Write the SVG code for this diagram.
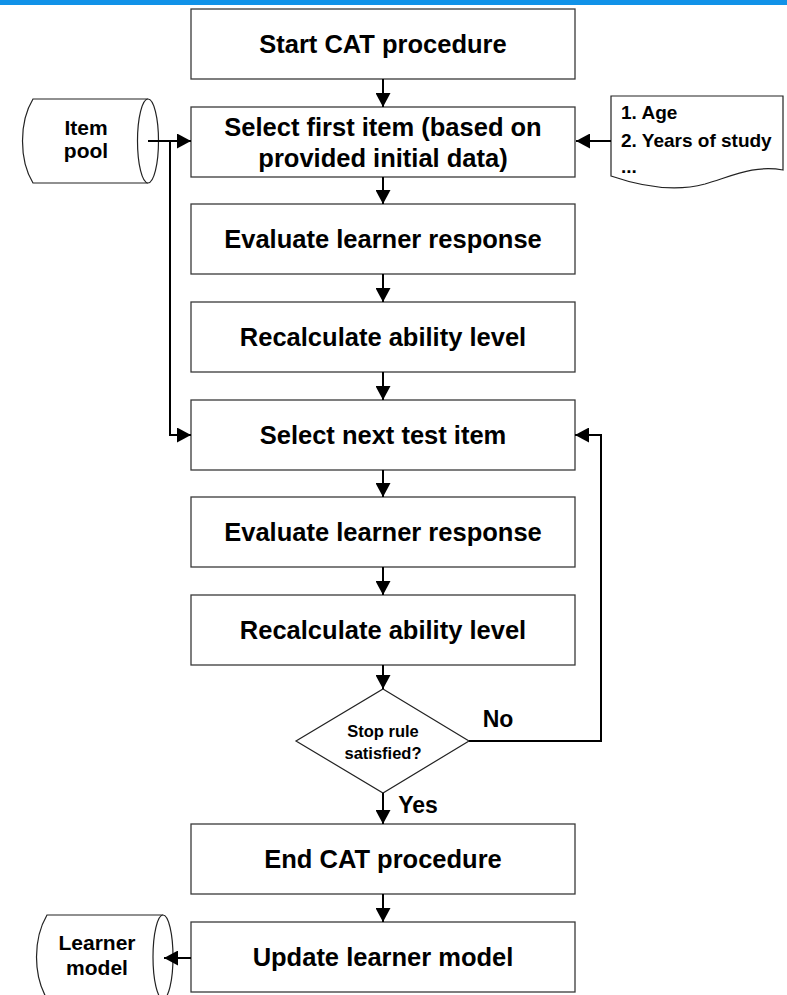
<svg xmlns="http://www.w3.org/2000/svg" width="787" height="995" viewBox="0 0 787 995">
<style>
.box{fill:#fff;stroke:#3a3a3a;stroke-width:1.3}
.shape{fill:#fff;stroke:#222;stroke-width:1.2}
.t{font-family:"Liberation Sans",Arial,sans-serif;font-weight:bold;fill:#000;text-anchor:middle}
.l{text-anchor:start}
.big{font-size:25.5px}
.ln{fill:none;stroke:#000;stroke-width:2}
</style>
<defs>
<marker id="ah" viewBox="0 0 14 15" refX="14" refY="7.5" markerWidth="14" markerHeight="15" markerUnits="userSpaceOnUse" orient="auto">
<path d="M0,0 L14,7.5 L0,15 z" fill="#000"/>
</marker>
</defs>
<rect x="0" y="0" width="787" height="5" fill="#1192e8"/>

<g id="start"><rect class="box" x="191" y="9" width="384" height="70"/><text class="t big" x="383" y="53">Start CAT procedure</text></g>
<g id="selectFirst"><rect class="box" x="191" y="107" width="384" height="70"/><text class="t big" x="383" y="136">Select first item (based on</text><text class="t big" x="383" y="167">provided initial data)</text></g>
<g id="eval1"><rect class="box" x="191" y="204" width="384" height="70"/><text class="t big" x="383" y="248">Evaluate learner response</text></g>
<g id="recalc1"><rect class="box" x="191" y="302" width="384" height="70"/><text class="t big" x="383" y="346">Recalculate ability level</text></g>
<g id="selectNext"><rect class="box" x="191" y="400" width="384" height="70"/><text class="t big" x="383" y="444">Select next test item</text></g>
<g id="eval2"><rect class="box" x="191" y="497" width="384" height="70"/><text class="t big" x="383" y="541">Evaluate learner response</text></g>
<g id="recalc2"><rect class="box" x="191" y="595" width="384" height="70"/><text class="t big" x="383" y="639">Recalculate ability level</text></g>
<g id="decision"><path class="shape" d="M383,689 L469,741 L383,793 L296,741 z"/><text class="t" font-size="16.5" x="383" y="737">Stop rule</text><text class="t" font-size="16.5" x="383" y="759">satisfied?</text></g>
<g id="end"><rect class="box" x="191" y="824" width="384" height="70"/><text class="t big" x="383" y="868">End CAT procedure</text></g>
<g id="update"><rect class="box" x="191" y="922" width="384" height="70"/><text class="t big" x="383" y="966">Update learner model</text></g>

<g id="itemPool">
<path class="shape" d="M33,99 H148 A10.5,42 0 0 1 148,183 H33 C19,160 19,122 33,99 z"/>
<path class="shape" fill="none" d="M148,99 A10.5,42 0 0 0 148,183"/>
<text class="t" font-size="21" x="86" y="135">Item</text><text class="t" font-size="21" x="86" y="158">pool</text>
</g>
<g id="initialData">
<path class="shape" d="M611,96 H783 V170 C755,165 735,175 705,184 C675,192 640,186 611,176 z"/>
<text class="t l" font-size="19" x="621" y="119">1. Age</text>
<text class="t l" font-size="19" x="621" y="147">2. Years of study</text>
<text class="t l" font-size="19" x="621" y="173">...</text>
</g>
<g id="learnerModel">
<path class="shape" d="M47,915 H163 A10,42 0 0 1 163,999 H47 C33,975 33,939 47,915 z"/>
<path class="shape" fill="none" d="M163,915 A10,42 0 0 0 163,999"/>
<text class="t" font-size="21" x="97" y="950">Learner</text><text class="t" font-size="21" x="97" y="975">model</text>
</g>

<g id="connectors">
<line class="ln" x1="383" y1="79" x2="383" y2="107" marker-end="url(#ah)"/>
<line class="ln" x1="383" y1="177" x2="383" y2="204" marker-end="url(#ah)"/>
<line class="ln" x1="383" y1="274" x2="383" y2="302" marker-end="url(#ah)"/>
<line class="ln" x1="383" y1="372" x2="383" y2="400" marker-end="url(#ah)"/>
<line class="ln" x1="383" y1="470" x2="383" y2="497" marker-end="url(#ah)"/>
<line class="ln" x1="383" y1="567" x2="383" y2="595" marker-end="url(#ah)"/>
<line class="ln" x1="383" y1="665" x2="383" y2="689" marker-end="url(#ah)"/>
<line class="ln" x1="383" y1="793" x2="383" y2="824" marker-end="url(#ah)"/>
<line class="ln" x1="383" y1="894" x2="383" y2="922" marker-end="url(#ah)"/>
<line class="ln" x1="148" y1="141" x2="191" y2="141" marker-end="url(#ah)"/>
<path class="ln" d="M170,141 V435 H191" marker-end="url(#ah)"/>
<line class="ln" x1="611" y1="141" x2="576" y2="141" marker-end="url(#ah)"/>
<path class="ln" d="M469,741 H601 V435 H575" marker-end="url(#ah)"/>
<line class="ln" x1="191" y1="958" x2="164" y2="958" marker-end="url(#ah)"/>
<text class="t" font-size="23" x="498" y="727">No</text>
<text class="t" font-size="23" x="418" y="813">Yes</text>
</g>
</svg>
